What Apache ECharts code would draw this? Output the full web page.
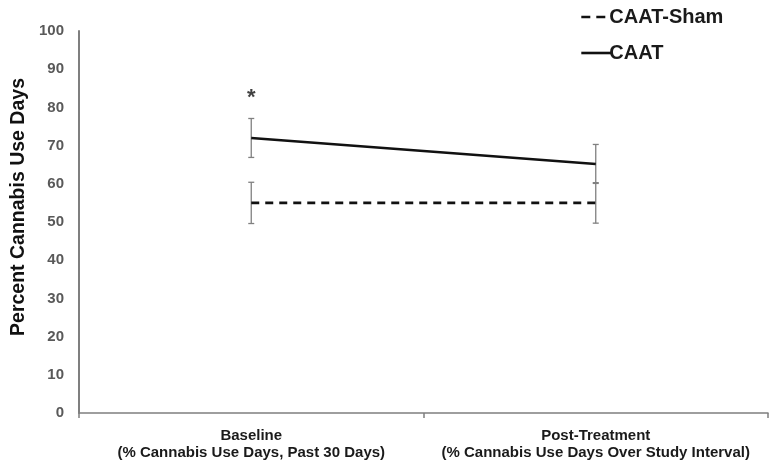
<!DOCTYPE html>
<html>
<head>
<meta charset="utf-8">
<script src="https://cdn.jsdelivr.net/npm/echarts@6/dist/echarts.min.js"></script>
<style>html,body{margin:0;padding:0;background:#fff}#c{width:771px;height:465px}</style>
</head>
<body>
<div id="c"></div>
<script>
var categories = ["Baseline\n(% Cannabis Use Days, Past 30 Days)", "Post-Treatment\n(% Cannabis Use Days Over Study Interval)"];
var caatValues = [72, 65.2];
var caatErrors = [5.1, 5.1];
var shamValues = [55, 55];
var shamErrors = [5.4, 5.3];
var asteriskPoint = [0, 82.5];
var yTicks = [0, 10, 20, 30, 40, 50, 60, 70, 80, 90, 100];
var yTitle = 'Percent Cannabis Use Days';

function errData(vals, errs) {
  return vals.map(function (v, i) { return [i, v - errs[i], v + errs[i]]; });
}
function errRender(params, api) {
  var x = api.value(0);
  var lo = api.coord([x, api.value(1)]);
  var hi = api.coord([x, api.value(2)]);
  var w = 3;
  var st = { stroke: '#808080', lineWidth: 1.3 };
  return {
    type: 'group',
    children: [
      { type: 'line', shape: { x1: hi[0], y1: hi[1], x2: lo[0], y2: lo[1] }, style: st },
      { type: 'line', shape: { x1: hi[0] - w, y1: hi[1], x2: hi[0] + w, y2: hi[1] }, style: st },
      { type: 'line', shape: { x1: lo[0] - w, y1: lo[1], x2: lo[0] + w, y2: lo[1] }, style: st }
    ]
  };
}

var chart = echarts.init(document.getElementById('c'), null, { renderer: 'canvas' });
chart.setOption({
  animation: false,
  backgroundColor: '#fff',
  grid: { left: 79, right: 3, top: 31, bottom: 52, containLabel: false, outerBoundsMode: 'none' },
  legend: {
    orient: 'vertical',
    left: 575,
    top: 2,
    itemGap: 16,
    itemWidth: 30,
    itemHeight: 14,
    data: [
      { name: 'CAAT-Sham', lineStyle: { type: [9, 6] } },
      { name: 'CAAT' }
    ],
    itemStyle: { opacity: 0 },
    lineStyle: { width: 2.6 },
    textStyle: { fontFamily: 'Liberation Sans, Arial, sans-serif', fontWeight: 'bold', fontSize: 20, color: '#1a1a1a', padding: [0, 0, 0, -7] }
  },
  graphic: [
    {
      type: 'text', x: 19, y: 207, rotation: Math.PI / 2,
      style: { text: yTitle, fontFamily: 'Liberation Sans, Arial, sans-serif', fontWeight: 'bold', fontSize: 19.5, fill: '#111', align: 'center', verticalAlign: 'middle' }
    }
  ],
  xAxis: {
    type: 'category',
    data: categories,
    boundaryGap: true,
    axisLine: { lineStyle: { color: '#7f7f7f', width: 1.5 } },
    axisTick: { show: true, length: 5, lineStyle: { color: '#7f7f7f', width: 1.5 } },
    axisLabel: {
      interval: 0,
      margin: 14,
      fontFamily: 'Liberation Sans, Arial, sans-serif',
      fontWeight: 'bold',
      fontSize: 15,
      lineHeight: 17,
      color: '#1a1a1a'
    }
  },
  yAxis: {
    type: 'value',
    min: yTicks[0],
    max: yTicks[yTicks.length - 1],
    interval: 10,
    axisLine: { show: true, lineStyle: { color: '#7f7f7f', width: 2 } },
    axisTick: { show: false },
    splitLine: { show: false },
    axisLabel: { margin: 15, fontFamily: 'Liberation Sans, Arial, sans-serif', fontWeight: 'bold', fontSize: 15, color: '#595959' }
  },
  series: [
    {
      name: 'CAAT-Sham', type: 'line', data: shamValues, symbol: 'none',
      lineStyle: { color: '#111', width: 2.6, type: [8, 6] }, itemStyle: { color: '#111' }, z: 3
    },
    {
      name: 'CAAT', type: 'line', data: caatValues, symbol: 'none',
      lineStyle: { color: '#111', width: 2.6, type: 'solid' }, itemStyle: { color: '#111' }, z: 3
    },
    { type: 'custom', renderItem: errRender, data: errData(shamValues, shamErrors), z: 2 },
    { type: 'custom', renderItem: errRender, data: errData(caatValues, caatErrors), z: 2 },
    {
      type: 'scatter', data: [asteriskPoint], symbolSize: 1, itemStyle: { color: 'rgba(0,0,0,0)' },
      label: { show: true, position: 'inside', formatter: '*', fontFamily: 'Liberation Sans, Arial, sans-serif', fontWeight: 'bold', fontSize: 22, color: '#111' }
    }
  ]
});
</script>
</body>
</html>
